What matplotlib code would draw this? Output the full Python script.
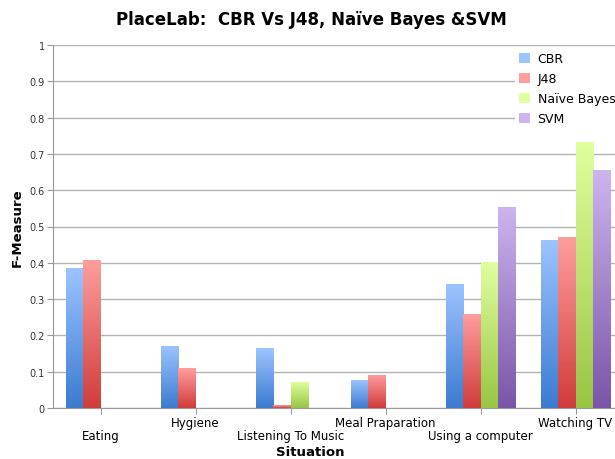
import numpy as np
import matplotlib
matplotlib.use('Agg')
from matplotlib import pyplot as plt
from matplotlib.colors import LinearSegmentedColormap

situations = ['Eating', 'Hygiene', 'Listening To Music', 'Meal Praparation',
              'Using a computer', 'Watching TV']
methods = ['CBR', 'J48', 'Naïve Bayes', 'SVM']
cbr = [0.386, 0.171, 0.165, 0.077, 0.342, 0.463]
j48 = [0.408, 0.110, 0.008, 0.091, 0.259, 0.471]
nbayes = [0, 0, 0.072, 0, 0.402, 0.733]
svm = [0, 0, 0, 0, 0.554, 0.656]

# (top colour, bottom colour) of each gradient
grads = [('#9dc4ff', '#3b7bd0'), ('#ff9e9e', '#d03c3c'),
         ('#e0ff9e', '#99c544'), ('#cdb5ef', '#7a55a8')]

fig = plt.figure(figsize=(6.15, 4.6), dpi=100)
ax = fig.add_axes([53/615, 51/460, 570/615, 363/460])

x = np.arange(len(situations))
w = 0.18
grad = np.linspace(0, 1, 256).reshape(-1, 1)
for i, (vals, name) in enumerate(zip([cbr, j48, nbayes, svm], methods)):
    top, bot = grads[i]
    cmap = LinearSegmentedColormap.from_list(name, [bot, top])
    bars = ax.bar(x + (i - 1.5) * w, vals, w, color=top, label=name,
                  edgecolor='none', zorder=2)
    for b in bars:
        h = b.get_height()
        if h <= 0:
            continue
        bx = b.get_x()
        im = ax.imshow(grad, extent=[bx, bx + w, 0, h], origin='lower',
                       cmap=cmap, aspect='auto', zorder=3)
        im.set_clip_path(b)

ax.set_xlim(-0.5, 5.5)
ax.set_ylim(0, 1)
ax.set_yticks(np.arange(0, 1.01, 0.1))
ax.set_yticklabels(['0', '0.1', '0.2', '0.3', '0.4', '0.5', '0.6', '0.7',
                    '0.8', '0.9', '1'], fontsize=7, color='#333333')
ax.yaxis.grid(True, color='#b3b3b3', linewidth=1)
ax.set_axisbelow(True)
ax.set_xticks(x)
ax.set_xticklabels([])
# labels alternate between two rows
for xi, lab in zip(x, situations):
    off = -28 if xi % 2 == 0 else -15
    ax.annotate(lab, (xi, 0), xytext=(0, off), textcoords='offset pixels',
                ha='center', va='center', fontsize=8.5, annotation_clip=False)
for s in ['top', 'right']:
    ax.spines[s].set_visible(False)
ax.spines['left'].set_color('#999999')
ax.spines['bottom'].set_color('#999999')
ax.tick_params(axis='x', length=4, color='#999999')
ax.tick_params(axis='y', length=4, color='#999999', pad=2)

ax.set_ylabel('F-Measure', fontsize=9.5, fontweight='bold', labelpad=4)
fig.text(310/615, 1 - 453/460, 'Situation', ha='center', va='center',
         fontsize=9.5, fontweight='bold')
fig.text(311/615, 1 - 20/460, 'PlaceLab:  CBR Vs J48, Naïve Bayes &SVM', ha='center',
         va='center', fontsize=12, fontweight='bold')

leg = ax.legend(loc='upper left', bbox_to_anchor=(462/570, 0.99), fontsize=9,
                frameon=True, fancybox=False, edgecolor='none',
                handlelength=0.9, handleheight=0.9, handletextpad=0.6,
                labelspacing=0.55, borderpad=0.3, borderaxespad=0)
leg.get_frame().set_alpha(1)

fig.savefig('out.png', dpi=100)
